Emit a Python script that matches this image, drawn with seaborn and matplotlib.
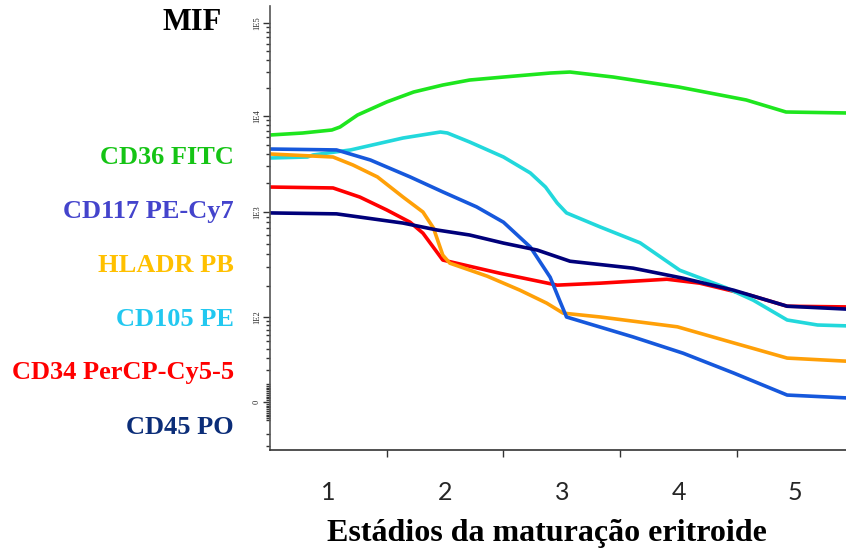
import numpy as np
import pandas as pd
import matplotlib
matplotlib.use("Agg")
import matplotlib.pyplot as plt
import seaborn as sns

# Position along the erythroid maturation axis (stage n is centred on n)
cd36_x = [0.50, 0.78, 1.03, 1.10, 1.25, 1.50, 1.73, 1.98, 2.21, 2.50, 2.90, 3.07, 3.44, 4.00, 4.58, 4.92, 5.45]
cd36_y = [6340, 6650, 7150, 7680, 10250, 14160, 18100, 21530, 24370, 26240, 28970, 29700, 26240, 20510, 14860, 11040, 10770]

cd105_x = [0.50, 0.82, 0.87, 1.19, 1.64, 1.96, 2.02, 2.21, 2.50, 2.73, 2.86, 2.96, 3.04, 3.33, 3.67, 4.01, 4.41, 4.64, 4.93, 5.19, 5.45]
cd105_y = [3650, 3740, 3930, 4430, 5900, 6810, 6650, 5360, 3740, 2550, 1820, 1240, 980, 720, 510, 280, 190, 145, 92, 80, 78]

cd117_x = [0.50, 1.07, 1.36, 1.70, 1.98, 2.27, 2.50, 2.73, 2.90, 2.98, 3.04, 3.61, 4.04, 4.47, 4.93, 5.45]
cd117_y = [4530, 4430, 3480, 2320, 1620, 1130, 800, 465, 240, 145, 100, 57, 35, 17.5, 3.8, 2.2]

hladr_x = [0.50, 1.04, 1.21, 1.42, 1.64, 1.81, 1.90, 1.98, 2.04, 2.36, 2.64, 2.87, 3.01, 3.33, 3.99, 4.47, 4.93, 5.45]
hladr_y = [4020, 3740, 3090, 2320, 1430, 1000, 705, 390, 327, 246, 181, 136, 109, 100, 76, 48, 30, 27]

cd34_x = [0.50, 1.04, 1.27, 1.50, 1.70, 1.81, 1.98, 2.47, 2.96, 3.33, 3.90, 4.18, 4.61, 4.93, 5.45]
cd34_y = [1820, 1780, 1430, 1050, 800, 630, 350, 262, 202, 211, 230, 211, 162, 127, 125]

cd45_x = [0.50, 1.07, 1.64, 1.93, 2.21, 2.50, 2.79, 3.07, 3.61, 4.04, 4.47, 4.93, 5.45]
cd45_y = [980, 960, 785, 675, 605, 507, 435, 341, 293, 235, 181, 127, 119]

markers = ["CD34 PerCP-Cy5-5", "CD105 PE", "HLADR PB", "CD117 PE-Cy7", "CD45 PO", "CD36 FITC"]
series_x = [cd34_x, cd105_x, hladr_x, cd117_x, cd45_x, cd36_x]
series_y = [cd34_y, cd105_y, hladr_y, cd117_y, cd45_y, cd36_y]

line_colors = {
    "CD36 FITC": "#1ee61e",
    "CD117 PE-Cy7": "#1658dc",
    "HLADR PB": "#ffa008",
    "CD105 PE": "#22d8dc",
    "CD34 PerCP-Cy5-5": "#ff0000",
    "CD45 PO": "#00007a",
}
label_colors = {
    "CD36 FITC": "#15c415",
    "CD117 PE-Cy7": "#4444cc",
    "HLADR PB": "#ffc000",
    "CD105 PE": "#22c8f0",
    "CD34 PerCP-Cy5-5": "#ff0000",
    "CD45 PO": "#0b2d78",
}
label_order = ["CD36 FITC", "CD117 PE-Cy7", "HLADR PB", "CD105 PE", "CD34 PerCP-Cy5-5", "CD45 PO"]

stage_labels = ["1", "2", "3", "4", "5"]
fluor_ticks = [0, 1e2, 1e3, 1e4, 1e5]
fluor_tick_labels = ["0", "1E2", "1E3", "1E4", "1E5"]

df = pd.concat(
    [pd.DataFrame({"stage": x, "mfi": y, "marker": m}) for m, x, y in zip(markers, series_x, series_y)],
    ignore_index=True,
)

# Biexponential-style fluorescence axis: linear near zero, log decades above
LN10 = np.log(10.0)


def _h(v):
    return 1.0 + np.arcsinh(np.asarray(v, dtype=float) / 20.0) / LN10


H_KNOTS = np.array([-5.0, 1.0, float(_h(100.0)), 3.0, 4.0, 5.0, 7.0])
P_KNOTS = np.array([-6.0 / 1.004 * 85.0, 0.0, 85.0, 190.0, 286.0, 379.0, 565.0])


def biexp_forward(v):
    return np.interp(_h(v), H_KNOTS, P_KNOTS)


def biexp_inverse(p):
    s = np.interp(np.asarray(p, dtype=float), P_KNOTS, H_KNOTS)
    return 20.0 * np.sinh((s - 1.0) * LN10)


sns.set_theme(style="white")
plt.rcParams["font.family"] = ["Liberation Serif", "DejaVu Serif"]

fig = plt.figure(figsize=(8.46, 5.53), dpi=100)
ax = fig.add_axes([270 / 846, 103 / 553, 576 / 846, 444 / 553])

ax.set_yscale("function", functions=(biexp_forward, biexp_inverse))

sns.lineplot(
    data=df, x="stage", y="mfi", hue="marker", hue_order=markers,
    palette=line_colors, sort=False, estimator=None, linewidth=2.6,
    legend=False, ax=ax,
)

ax.set_xlim(0.5, 5.434)
ax.set_ylim(float(biexp_inverse(-48.0)), float(biexp_inverse(396.0)))

# y ticks
minor_y = []
for dec in (1e2, 1e3, 1e4):
    minor_y += [k * dec for k in range(2, 10)]
minor_y += [k * 10 for k in range(1, 10)]
minor_y += [k for k in range(1, 10)] + [-k for k in range(1, 10)]
minor_y += [-10, -20, -30]
ax.set_yticks(fluor_ticks, fluor_tick_labels)
ax.set_yticks(minor_y, minor=True)
ax.tick_params(axis="y", which="major", direction="out", length=5, width=1.0,
               color="#333333", left=True, labelsize=6, pad=1.5,
               labelrotation=90)
ax.tick_params(axis="y", which="minor", direction="out", length=3, width=1.0,
               color="#333333", left=True)
for t in ax.get_yticklabels():
    t.set_verticalalignment("center")

# x ticks: separators between stages, stage numbers centred in each band
ax.set_xticks([1.5, 2.5, 3.5, 4.5], ["", "", "", ""])
ax.set_xticks([1, 2, 3, 4, 5], stage_labels, minor=True)
ax.tick_params(axis="x", which="major", direction="out", length=5, width=1.0,
               color="#333333", bottom=True)
ax.tick_params(axis="x", which="minor", length=0, pad=22, labelsize=18)
for t in ax.get_xticklabels(minor=True):
    t.set_fontfamily(["Lato", "DejaVu Sans"])

ax.set_xlabel("")
ax.set_ylabel("")
for side in ("top", "right"):
    ax.spines[side].set_visible(False)
ax.spines["left"].set_color("#555555")
ax.spines["left"].set_linewidth(1.2)
ax.spines["bottom"].set_color("#333333")
ax.spines["bottom"].set_linewidth(1.2)

# Titles and marker labels
fig.text(192 / 846, 1 - 22 / 553, "MIF", ha="center", va="center",
         fontsize=22, fontweight="bold", color="black")
fig.text(547 / 846, 1 - 533 / 553, "Estádios da maturação eritroide",
         ha="center", va="center", fontsize=23, fontweight="bold", color="black")

label_y = [157, 211, 265, 319, 373, 427]
for name, yy in zip(label_order, label_y):
    fig.text(234 / 846, 1 - yy / 553, name, ha="right", va="center",
             fontsize=19, fontweight="bold", color=label_colors[name])

fig.savefig("out.png", dpi=100)
